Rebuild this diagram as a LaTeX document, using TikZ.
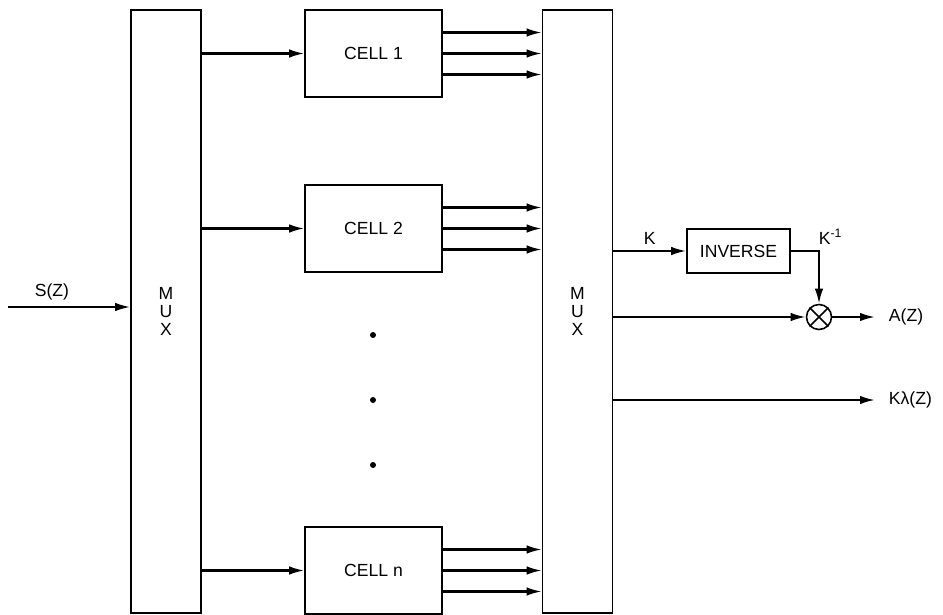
\documentclass[tikz,border=0pt]{standalone}
\usepackage{fontspec}
\setmainfont{Liberation Sans}
\usepackage{tikz}
\usetikzlibrary{arrows.meta}

\begin{document}
\begin{tikzpicture}[x=0.02cm, y=-0.02cm,
    font=\fontsize{10}{10.5}\selectfont,
    mux/.style={draw, line width=0.9pt, minimum width=1.4cm, minimum height=12.06cm, align=center},
    cell/.style={draw, line width=0.9pt, minimum width=2.74cm, minimum height=1.74cm},
    sig/.style={line width=1.2pt, -{Latex[length=3mm, width=1.7mm]}}
]
  \useasboundingbox (0,0) rectangle (943,615);

  % Multiplexer links und rechts
  \node[mux] (muxL) at (166,311.5) {M\\U\\X};
  \node[mux] (muxR) at (577.5,311.5) {M\\U\\X};

  % Zellen
  \node[cell] (cell1) at (373.5,53.5) {CELL 1};
  \node[cell] (cell2) at (373.5,228.5) {CELL 2};
  \node[cell] (celln) at (373.5,570.5) {CELL n};

  % Punkte zwischen den Zellen
  \foreach \y in {335,400,465}
    \fill (373,\y) circle (0.06cm);

  % Eingang
  \coordinate (sin) at (8,307);
  \draw[sig] (sin) -- (sin -| muxL.west) node[pos=0.36, above] {S(Z)};

  % MUX -> Zellen -> MUX
  \foreach \c in {cell1,cell2,celln} {
    \draw[sig] (\c.west -| muxL.east) -- (\c.west);
    \foreach \d in {-0.42,0,0.42}
      \draw[sig] ([yshift=\d cm]\c.east) -- ([yshift=\d cm]\c.east -| muxR.west);
  }

  % Inverse und Multiplikation
  \node[draw, line width=0.9pt, minimum width=2.06cm, minimum height=0.88cm] (inv) at (738.5,251) {INVERSE};
  \node[draw, circle, line width=0.9pt, minimum size=0.5cm] (mult) at (819,317) {};
  \draw[line width=0.9pt] (mult.north east) -- (mult.south west)
                          (mult.north west) -- (mult.south east);

  \draw[sig] (inv.west -| muxR.east) -- (inv.west) node[midway, above] {K};
  \draw[sig] (inv.east) -| (mult.north) node[pos=0.5, above right, xshift=-4pt] {K\textsuperscript{-1}};
  \draw[sig] (mult.west -| muxR.east) -- (mult.west);

  % Ausgaenge
  \coordinate (aout) at (875,317);
  \coordinate (kout) at (875,400);
  \draw[sig] (mult.east) -- (aout) node[right, xshift=4pt] {A(Z)};
  \draw[sig] (kout -| muxR.east) -- (kout) node[right, xshift=4pt] {Kλ(Z)};

\end{tikzpicture}
\end{document}
